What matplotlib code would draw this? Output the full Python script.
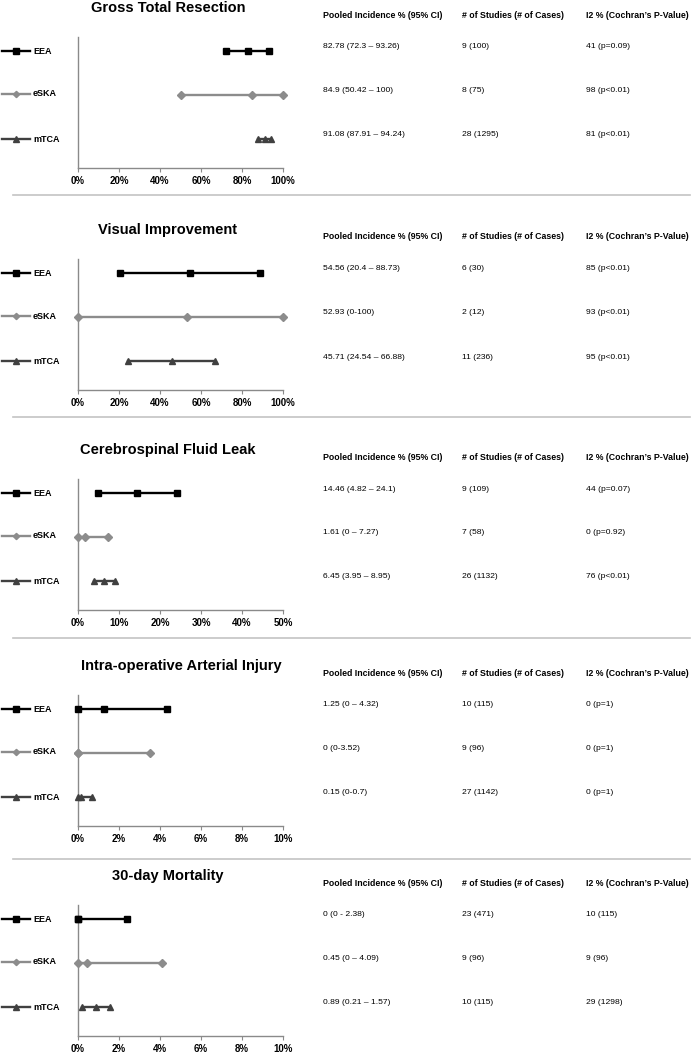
import matplotlib
matplotlib.use("Agg")
import matplotlib.pyplot as plt
from matplotlib.lines import Line2D

outcomes = ["Gross Total Resection", "Visual Improvement", "Cerebrospinal Fluid Leak",
            "Intra-operative Arterial Injury", "30-day Mortality"]
groups = ["EEA", "eSKA", "mTCA"]

eea_est = [82.78, 54.56, 14.46, 1.25, 0]
eea_lo = [72.3, 20.4, 4.82, 0, 0]
eea_hi = [93.26, 88.73, 24.1, 4.32, 2.38]

eska_est = [84.9, 52.93, 1.61, 0, 0.45]
eska_lo = [50.42, 0, 0, 0, 0]
eska_hi = [100, 100, 7.27, 3.52, 4.09]

mtca_est = [91.08, 45.71, 6.45, 0.15, 0.89]
mtca_lo = [87.91, 24.54, 3.95, 0, 0.21]
mtca_hi = [94.24, 66.88, 8.95, 0.7, 1.57]

x_max = [100, 100, 50, 10, 10]
x_step = [20, 20, 10, 2, 2]

headers = ["Pooled Incidence % (95% CI)", "# of Studies (# of Cases)", "I2 % (Cochran\u2019s P-Value)"]

pooled_text = [
    ["82.78 (72.3 \u2013 93.26)", "84.9 (50.42 \u2013 100)", "91.08 (87.91 \u2013 94.24)"],
    ["54.56 (20.4 \u2013 88.73)", "52.93 (0-100)", "45.71 (24.54 \u2013 66.88)"],
    ["14.46 (4.82 \u2013 24.1)", "1.61 (0 \u2013 7.27)", "6.45 (3.95 \u2013 8.95)"],
    ["1.25 (0 \u2013 4.32)", "0 (0-3.52)", "0.15 (0-0.7)"],
    ["0 (0 - 2.38)", "0.45 (0 \u2013 4.09)", "0.89 (0.21 \u2013 1.57)"],
]
studies_text = [
    ["9 (100)", "8 (75)", "28 (1295)"],
    ["6 (30)", "2 (12)", "11 (236)"],
    ["9 (109)", "7 (58)", "26 (1132)"],
    ["10 (115)", "9 (96)", "27 (1142)"],
    ["23 (471)", "9 (96)", "10 (115)"],
]
i2_text = [
    ["41 (p=0.09)", "98 (p<0.01)", "81 (p<0.01)"],
    ["85 (p<0.01)", "93 (p<0.01)", "95 (p<0.01)"],
    ["44 (p=0.07)", "0 (p=0.92)", "76 (p<0.01)"],
    ["0 (p=1)", "0 (p=1)", "0 (p=1)"],
    ["10 (115)", "9 (96)", "29 (1298)"],
]

# styles
colors = ["#000000", "#8c8c8c", "#404040"]
markers = ["s", "D", "^"]
msizes = [4.6, 3.6, 4.2]

W, H = 692, 1056
fig = plt.figure(figsize=(W / 100, H / 100), dpi=100)


def fx(x):
    return x / W


def fy(y):
    return 1 - y / H


bases = [0, 222, 442, 658, 868]
separators = [195, 417, 638, 859]
row_px = [51, 94, 139]
title_x = [168, 168, 168, 181, 168]
tick_font = ["Liberation Sans Narrow", "Liberation Sans", "DejaVu Sans"]

for i, title in enumerate(outcomes):
    b = bases[i]
    top, bottom = b + 37, b + 168
    ax = fig.add_axes([fx(78), fy(bottom), fx(283) - fx(78), (bottom - top) / H])
    series = [(eea_est, eea_lo, eea_hi), (eska_est, eska_lo, eska_hi), (mtca_est, mtca_lo, mtca_hi)]
    for k, (est, lo, hi) in enumerate(series):
        yv = 3 - k
        ax.plot([lo[i], est[i], hi[i]], [yv, yv, yv], color=colors[k], lw=1.7,
                marker=markers[k], ms=msizes[k], clip_on=False, zorder=3)
    ax.set_xlim(0, x_max[i])
    ax.set_ylim(0.34, 3.32)
    ax.set_xticks(range(0, x_max[i] + 1, x_step[i]))
    ax.set_xticklabels([f"{t}%" for t in range(0, x_max[i] + 1, x_step[i])],
                       fontsize=7, fontweight="bold", family=tick_font)
    ax.set_yticks([])
    for s in ["top", "right"]:
        ax.spines[s].set_visible(False)
    for s in ["left", "bottom"]:
        ax.spines[s].set_color("#8a8a8a")
        ax.spines[s].set_linewidth(1)
    ax.tick_params(axis="x", length=3, color="#8a8a8a", pad=3)

    fig.text(fx(title_x[i]), fy(b + 8), title, ha="center", va="center",
             fontsize=10.5, fontweight="bold", family="Liberation Sans")

    # legend entries at the left
    for k, g in enumerate(groups):
        yy = fy(b + row_px[k])
        fig.add_artist(Line2D([fx(2), fx(16), fx(30)], [yy, yy, yy], transform=fig.transFigure,
                              color=colors[k], lw=1.7, marker=markers[k], ms=msizes[k] - 0.4,
                              markevery=[1]))
        fig.text(fx(33), yy, g, ha="left", va="center", fontsize=6.5,
                 fontweight="bold", family=tick_font)

    # table
    cols = [323, 462, 586]
    for c, h in enumerate(headers):
        fig.text(fx(cols[c]), fy(b + 15), h, ha="left", va="center",
                 fontsize=6.3, fontweight="bold", family="Liberation Sans")
    for k in range(3):
        yy = fy(b + row_px[k] - 4)
        for c, txt in enumerate([pooled_text[i][k], studies_text[i][k], i2_text[i][k]]):
            fig.text(fx(cols[c]), yy, txt, ha="left", va="center",
                     fontsize=6.1, family="Liberation Sans")

for s in separators:
    fig.add_artist(Line2D([fx(13), fx(690)], [fy(s), fy(s)], transform=fig.transFigure,
                          color="#c4c4c4", lw=1.2))

fig.savefig("out.png", dpi=100)
